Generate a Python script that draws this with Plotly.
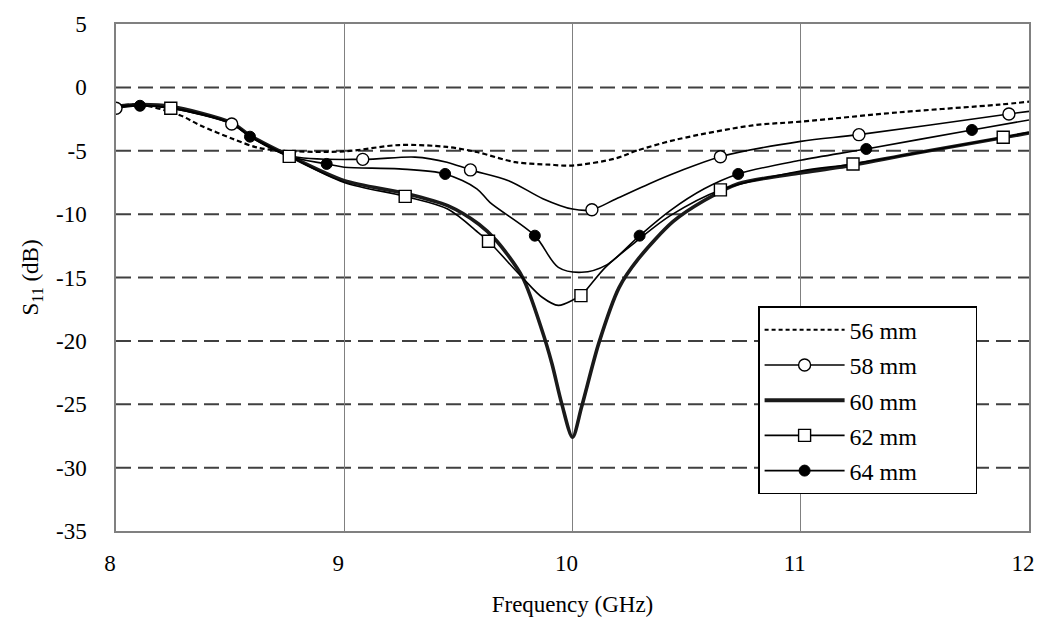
import plotly.graph_objects as go

# ---------------- data ----------------
FREQ_56 = [8.0, 8.1, 8.28, 8.37, 8.51, 8.62, 8.73, 9.0, 9.24, 9.45, 9.58, 9.75, 9.9, 10.0,
           10.19, 10.28, 10.46, 10.79, 11.0, 11.43, 11.87, 12.0]
S11_56 = [-1.5, -1.35, -2.2, -3.0, -4.05, -4.75, -5.0, -5.05, -4.55, -4.7, -5.1, -5.9, -6.1, -6.17,
          -5.6, -5.0, -4.1, -3.0, -2.7, -1.97, -1.36, -1.13]

FREQ_58 = [8.0, 8.105, 8.24, 8.507, 8.587, 8.759, 9.081, 9.31, 9.45, 9.553, 9.72, 9.87, 10.0,
           10.085, 10.19, 10.337, 10.457, 10.648, 11.0, 11.255, 11.912, 12.0]
S11_58 = [-1.65, -1.45, -1.65, -2.89, -3.85, -5.4, -5.68, -5.5, -5.9, -6.51, -7.36, -8.78, -9.6,
          -9.65, -8.8, -7.6, -6.7, -5.47, -4.26, -3.73, -2.1, -1.89]
MARK_58 = [0, 3, 6, 9, 13, 17, 19, 20]

FREQ_60 = [8.0, 8.105, 8.24, 8.507, 8.587, 8.759, 9.0, 9.267, 9.453, 9.59, 9.667, 9.781, 9.867,
           9.91, 9.953, 10.0, 10.04, 10.115, 10.204, 10.29, 10.44, 10.577, 10.726, 11.0, 11.17,
           11.5, 12.0]
S11_60 = [-1.5, -1.35, -1.5, -2.8, -3.8, -5.4, -7.36, -8.36, -9.33, -10.8, -12.1, -14.98, -19.2,
          -21.8, -24.97, -27.6, -25.2, -20.2, -15.8, -13.5, -10.6, -8.93, -7.6, -6.75, -6.3,
          -5.2, -3.6]

FREQ_62 = [8.0, 8.105, 8.24, 8.507, 8.587, 8.759, 9.0, 9.267, 9.453, 9.59, 9.632, 9.78, 9.867,
           9.938, 10.01, 10.037, 10.144, 10.29, 10.43, 10.648, 11.0, 11.229, 11.887, 12.0]
S11_62 = [-1.5, -1.4, -1.65, -2.85, -3.85, -5.44, -7.5, -8.6, -9.6, -11.5, -12.14, -15.0, -16.56,
          -17.2, -16.7, -16.43, -14.2, -12.0, -10.1, -8.09, -6.6, -6.04, -3.94, -3.55]
MARK_62 = [2, 5, 7, 10, 15, 19, 21, 22]

FREQ_64 = [8.0, 8.105, 8.24, 8.507, 8.587, 8.759, 8.923, 9.0, 9.24, 9.442, 9.581, 9.638, 9.835,
           9.938, 10.04, 10.15, 10.294, 10.428, 10.577, 10.726, 11.0, 11.287, 11.75, 12.0]
S11_64 = [-1.55, -1.45, -1.6, -2.85, -3.89, -5.44, -6.04, -6.3, -6.43, -6.83, -8.0, -9.07, -11.7,
          -14.2, -14.59, -14.0, -11.7, -9.72, -8.0, -6.83, -5.75, -4.86, -3.36, -2.57]
MARK_64 = [1, 4, 6, 9, 12, 16, 19, 21, 22]

LABELS = ["56 mm", "58 mm", "60 mm", "62 mm", "64 mm"]
X_TICKS = [8, 9, 10, 11, 12]
Y_TICKS = [5, 0, -5, -10, -15, -20, -25, -30, -35]
Y_GRID = [0, -5, -10, -15, -20, -25, -30]

FONT = "Liberation Serif"
PAD = "\u00a0" * 9  # widens the legend box like the reference

fig = go.Figure()

def pick(arr, idx):
    return [arr[i] for i in idx]

thin = dict(color="#000000", width=1.6, shape="spline", smoothing=0.9)

# 56 mm dotted
fig.add_trace(go.Scatter(x=FREQ_56, y=S11_56, mode="lines", legendgroup="g56", showlegend=False,
                         line=dict(color="#000000", width=2.2, dash="5px,3px", shape="spline", smoothing=0.9)))
# 58 mm
fig.add_trace(go.Scatter(x=FREQ_58, y=S11_58, mode="lines", legendgroup="g58", showlegend=False, line=thin))
# 60 mm thick
fig.add_trace(go.Scatter(x=FREQ_60, y=S11_60, mode="lines", legendgroup="g60", showlegend=False,
                         line=dict(color="#1a1a1a", width=3.6, shape="spline", smoothing=0.8)))
# 62 mm
fig.add_trace(go.Scatter(x=FREQ_62, y=S11_62, mode="lines", legendgroup="g62", showlegend=False, line=thin))
# 64 mm
fig.add_trace(go.Scatter(x=FREQ_64, y=S11_64, mode="lines", legendgroup="g64", showlegend=False, line=thin))

m_open_c = dict(symbol="circle", size=12, color="#ffffff", line=dict(color="#000000", width=1.4))
m_square = dict(symbol="square", size=12, color="#ffffff", line=dict(color="#000000", width=1.4))
m_fill_c = dict(symbol="circle", size=11, color="#000000", line=dict(color="#000000", width=1))

fig.add_trace(go.Scatter(x=pick(FREQ_58, MARK_58), y=pick(S11_58, MARK_58), mode="markers",
                         legendgroup="g58", showlegend=False, marker=m_open_c))
fig.add_trace(go.Scatter(x=pick(FREQ_62, MARK_62), y=pick(S11_62, MARK_62), mode="markers",
                         legendgroup="g62", showlegend=False, marker=m_square))
fig.add_trace(go.Scatter(x=pick(FREQ_64, MARK_64), y=pick(S11_64, MARK_64), mode="markers",
                         legendgroup="g64", showlegend=False, marker=m_fill_c))

# legend entries
fig.add_trace(go.Scatter(x=[None], y=[None], mode="lines", name=LABELS[0] + PAD, legendgroup="g56",
                         line=dict(color="#000000", width=2, dash="4px,3px")))
fig.add_trace(go.Scatter(x=[None], y=[None], mode="lines+markers", name=LABELS[1] + PAD, legendgroup="g58",
                         line=dict(color="#000000", width=1.6), marker=m_open_c))
fig.add_trace(go.Scatter(x=[None], y=[None], mode="lines", name=LABELS[2] + PAD, legendgroup="g60",
                         line=dict(color="#1a1a1a", width=4)))
fig.add_trace(go.Scatter(x=[None], y=[None], mode="lines+markers", name=LABELS[3] + PAD, legendgroup="g62",
                         line=dict(color="#000000", width=1.6), marker=m_square))
fig.add_trace(go.Scatter(x=[None], y=[None], mode="lines+markers", name=LABELS[4] + PAD, legendgroup="g64",
                         line=dict(color="#000000", width=1.6), marker=m_fill_c))

for gy in Y_GRID:
    fig.add_shape(type="line", xref="paper", x0=0, x1=1, yref="y", y0=gy, y1=gy,
                  line=dict(color="#404040", width=2, dash="15px,7px"), layer="below")

# the page body adds an 8px margin all round, so the figure is 16px smaller than the window
fig.update_layout(
    width=1026, height=609,
    margin=dict(l=108, r=5, t=16, b=86, autoexpand=False),
    paper_bgcolor="white", plot_bgcolor="white",
    font=dict(family=FONT, color="#000000", size=23),
    xaxis=dict(range=[8, 12], tickvals=X_TICKS, ticktext=[str(v) for v in X_TICKS],
               showline=True, mirror=True, linecolor="#808080", automargin=False,
               linewidth=1.5, showgrid=True, gridcolor="#808080", gridwidth=1.3, zeroline=False,
               ticks="", ticklabelstandoff=11, ticklabelshift=-6, ticklabeloverflow="allow",
               tickfont=dict(family=FONT, size=23),
               title=dict(text="Frequency (GHz)", font=dict(family=FONT, size=23), standoff=28)),
    yaxis=dict(range=[-35, 5], tickvals=Y_TICKS, ticktext=[str(v) for v in Y_TICKS],
               showline=True, mirror=True, linecolor="#808080", automargin=False,
               linewidth=1.5, showgrid=False, zeroline=False, ticks="", ticklabelstandoff=23,
               tickfont=dict(family=FONT, size=23),
               title=dict(text="S<sub>11</sub> (dB)", font=dict(family=FONT, size=23), standoff=11)),
    legend=dict(x=0.7035, y=0.443, xanchor="left", yanchor="top", bgcolor="white",
                bordercolor="#000000", borderwidth=1.3, font=dict(family=FONT, size=24),
                tracegroupgap=1, itemwidth=80),
    showlegend=True,
)

fig.write_html("out.html")
